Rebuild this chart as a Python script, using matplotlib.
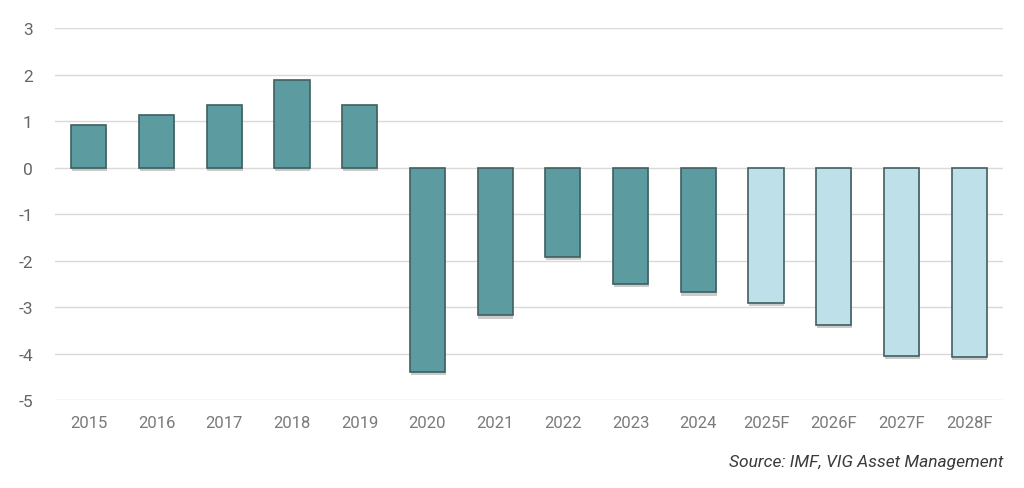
import matplotlib
matplotlib.use("Agg")
import matplotlib.pyplot as plt
import matplotlib.patheffects as pe

plt.rcParams["font.family"] = ["Roboto", "DejaVu Sans"]
plt.rcParams["axes.unicode_minus"] = False

# Budget balance (% of GDP), actuals and IMF forecasts
years = ["2015", "2016", "2017", "2018", "2019", "2020", "2021",
         "2022", "2023", "2024", "2025F", "2026F", "2027F", "2028F"]
values = [0.92, 1.13, 1.35, 1.89, 1.34, -4.39, -3.18,
          -1.92, -2.50, -2.68, -2.91, -3.38, -4.05, -4.07]
is_forecast = [y.endswith("F") for y in years]

ACTUAL = "#5c9ca0"
FORECAST = "#bee0e9"
EDGE = "#3f5f61"

fig = plt.figure(figsize=(10.24, 4.89), dpi=100)
ax = fig.add_axes([0.0537, 0.18, 0.9258, 0.76])

x = list(range(len(years)))
colors = [FORECAST if f else ACTUAL for f in is_forecast]
bars = ax.bar(x, values, width=0.52, color=colors, edgecolor=EDGE,
              linewidth=1.2, zorder=3)
for b in bars:
    b.set_path_effects([pe.SimplePatchShadow(offset=(0.5, -2.5), alpha=0.3,
                                             shadow_rgbFace="#555555"),
                        pe.Normal()])

ax.set_xlim(-0.5, len(years) - 0.5)
ax.set_ylim(-5, 3)
ax.set_yticks(range(-5, 4))
ax.set_xticks(x)
ax.set_xticklabels(years)
ax.grid(axis="y", color="#d9d9d9", linewidth=1, zorder=0)
for s in ax.spines.values():
    s.set_visible(False)
ax.tick_params(length=0, labelsize=12, labelcolor="#7a7a7a")
ax.tick_params(axis="x", pad=11)
ax.tick_params(axis="y", pad=16, labelsize=12.5, labelcolor="#666666")

fig.text(0.9795, 0.055, "Source: IMF, VIG Asset Management", ha="right",
         va="center", fontsize=12.5, style="italic", color="#3a3a3a")

fig.savefig("out.png", dpi=100)
